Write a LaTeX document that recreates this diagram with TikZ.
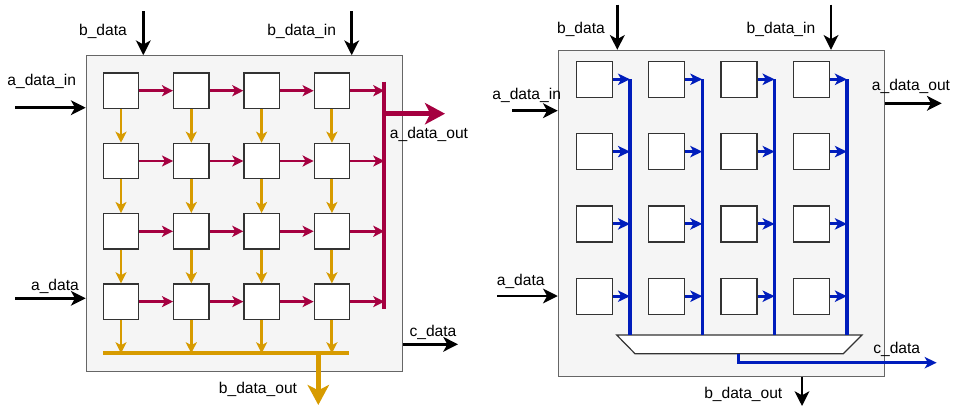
\documentclass[tikz,border=0pt]{standalone}
\usepackage{fontspec}
\setmainfont{Liberation Sans}
\usepackage{tikz}
\usetikzlibrary{arrows.meta}
\definecolor{bordo}{HTML}{A50040}
\definecolor{amber}{HTML}{D79B00}
\definecolor{cobalt}{HTML}{001DBC}
\definecolor{panel}{HTML}{F5F5F5}
\definecolor{edge}{HTML}{666666}

\begin{document}
\begin{tikzpicture}[
  x=0.75pt, y=-0.75pt,
  every node/.style={font=\fontsize{11.7}{14}\selectfont},
  outer/.style={draw=edge, fill=panel, inner sep=0pt, line width=0.8pt},
  pe/.style={draw=black!80, fill=white, inner sep=0pt, line width=0.9pt},
  blk/.style={line width=2.2pt, -{Stealth[length=11pt, width=11pt, inset=3pt]}},
  redarr/.style={bordo, line width=2.2pt, -{Stealth[length=8.3pt, width=8.3pt, inset=2.2pt]}},
  redbar/.style={bordo, line width=2.8pt},
  redbig/.style={bordo, line width=3.8pt, -{Stealth[length=15pt, width=16pt, inset=4pt]}},
  ambarr/.style={amber, line width=2.2pt, -{Stealth[length=8.3pt, width=8.3pt, inset=2.2pt]}},
  ambbar/.style={amber, line width=2.8pt},
  ambbig/.style={amber, line width=3.8pt, -{Stealth[length=15pt, width=16pt, inset=4pt]}},
  bluearr/.style={cobalt, line width=2.2pt, -{Stealth[length=9pt, width=8.5pt, inset=2.4pt]}},
  bluebus/.style={cobalt, line width=2.6pt}
]
  \useasboundingbox (0,0) rectangle (953,407);

  % left array: a flows right, b flows down
  \node[outer, minimum width=237pt, minimum height=237pt] (Lbox) at (244.2,213.7) {};
  \foreach \r in {0,...,3}
    \foreach \c in {0,...,3}
      \node[pe, minimum size=26.5pt] (L\r\c) at ({121+70.3*\c},{90.7+70.3*\r}) {};

  \coordinate (abar) at (384.3,81.7);
  \coordinate (abarend) at (384.3,309.3);
  \coordinate (bbar) at (103.3,353.3);
  \coordinate (bbarend) at (349,353.3);
  \coordinate (aout) at (445,113.7);
  \coordinate (bout) at (318.3,405);

  \foreach \r in {0,...,3} {
    \foreach \c/\n in {0/1,1/2,2/3}
      \draw[redarr] (L\r\c) -- (L\r\n);
    \draw[redarr] (L\r3.east) -- (L\r3.east -| abar);
  }
  \foreach \c in {0,...,3} {
    \foreach \r/\n in {0/1,1/2,2/3}
      \draw[ambarr] (L\r\c) -- (L\n\c);
    \draw[ambarr] (L3\c.south) -- (L3\c.south |- bbar);
  }
  \draw[redbar] (abar) -- (abarend);
  \draw[redbig] (aout -| abar) -- (aout);
  \draw[ambbar] (bbar) -- (bbarend);
  \draw[ambbig] (bout |- bbar) -- (bout);

  \coordinate (Lbd) at (143.3,11);
  \coordinate (Lbdin) at (351.7,11);
  \coordinate (Ladin) at (15.3,107.7);
  \coordinate (Lad) at (15.3,298.3);
  \coordinate (Lcd) at (458,344.3);
  \draw[blk] (Lbd) -- (Lbd |- Lbox.north);
  \draw[blk] (Lbdin) -- (Lbdin |- Lbox.north);
  \draw[blk] (Ladin) -- (Ladin -| Lbox.west);
  \draw[blk] (Lad) -- (Lad -| Lbox.west);
  \draw[blk] (Lcd -| Lbox.east) -- (Lcd);

  \node (Lbdl) at (103,31.7) {b\_data};
  \node (Lbdinl) at (301.7,31.7) {b\_data\_in};
  \node (Ladinl) at (41.7,81.7) {a\_data\_in};
  \node (Ladl) at (55,286) {a\_data};
  \node (Lcdl) at (433,332) {c\_data};
  \node (Laoutl) at (429,134) {a\_data\_out};
  \node (Lboutl) at (258,389) {b\_data\_out};

  % right array: column buses into the reduction block
  \node[outer, minimum width=244.5pt, minimum height=244.3pt] (Rbox) at (721.3,213.2) {};
  \foreach \r in {0,...,3}
    \foreach \c in {0,...,3}
      \node[pe, minimum size=27pt] (R\r\c) at ({594.3+72.3*\c},{79.3+72.3*\r}) {};

  \coordinate (muxtl) at (616.7,335);
  \coordinate (muxtr) at (862,335);
  \coordinate (muxbr) at (843.3,353.7);
  \coordinate (muxbl) at (635,353.7);
  \coordinate (muxout) at (738.3,353.7);
  \draw[pe] (muxtl) -- (muxtr) -- (muxbr) -- (muxbl) -- cycle;

  \foreach \c in {0,...,3} {
    \coordinate (tap\c) at ({630+72.3*\c},79.3);
    \draw[bluebus] (tap\c) -- (tap\c |- muxtl);
    \foreach \r in {0,...,3}
      \draw[bluearr] (R\r\c.east) -- (R\r\c.east -| tap\c);
  }
  \coordinate (Rcd) at (936.7,362.7);
  \draw[bluearr, line width=2pt] (muxout) |- (Rcd);

  \coordinate (Rbd) at (617.3,4.7);
  \coordinate (Rbdin) at (831,4.7);
  \coordinate (Radin) at (512.3,110.7);
  \coordinate (Rad) at (497.3,296);
  \coordinate (Raout) at (941.7,103.3);
  \coordinate (Rbout) at (802,406);
  \draw[blk] (Rbd) -- (Rbd |- Rbox.north);
  \draw[blk] (Rbdin) -- (Rbdin |- Rbox.north);
  \draw[blk] (Radin) -- (Radin -| Rbox.west);
  \draw[blk] (Rad) -- (Rad -| Rbox.west);
  \draw[blk] (Raout -| Rbox.east) -- (Raout);
  \draw[blk] (Rbout |- Rbox.south) -- (Rbout);

  \node (Rbdl) at (581,29.3) {b\_data};
  \node (Rbdinl) at (781,29.3) {b\_data\_in};
  \node (Radinl) at (526.7,95.7) {a\_data\_in};
  \node (Radl) at (520.7,281.7) {a\_data};
  \node (Raoutl) at (911,86.7) {a\_data\_out};
  \node (Rcdl) at (896.7,349) {c\_data};
  \node (Rboutl) at (743.3,394.3) {b\_data\_out};
\end{tikzpicture}
\end{document}
